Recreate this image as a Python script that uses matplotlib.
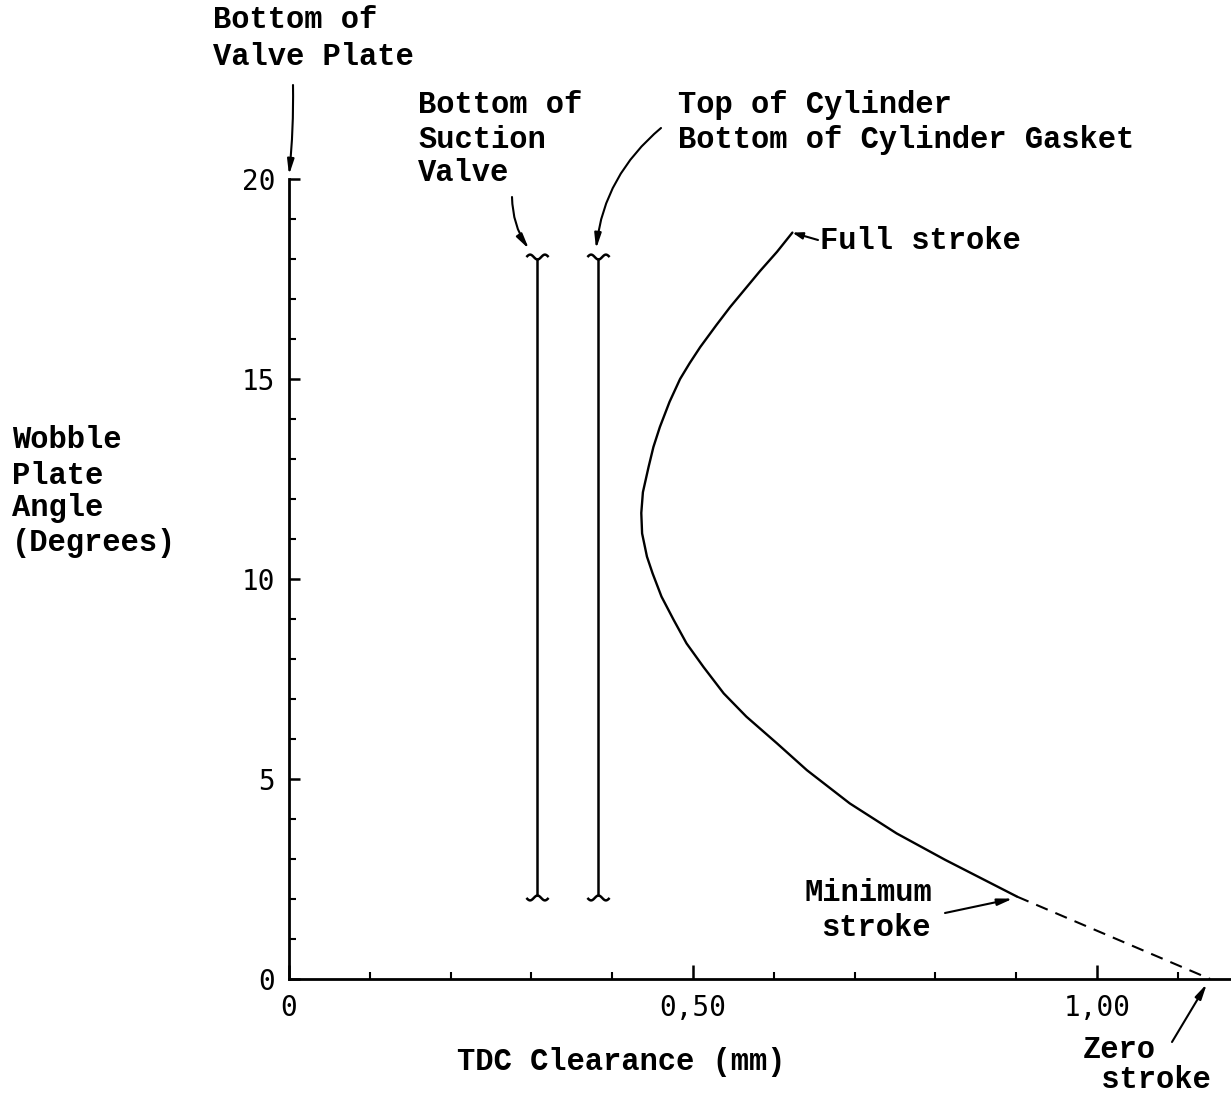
import numpy as np
import matplotlib
matplotlib.use("Agg")
import matplotlib.pyplot as plt
from matplotlib.path import Path
from matplotlib.ticker import MultipleLocator, FixedLocator, FixedFormatter

# ---- data -------------------------------------------------------------
# Wobble plate angle (deg) vs. TDC clearance (mm), solid part of the curve
angle_deg = [18.66, 18.18, 17.7, 16.8, 16.35, 15.8, 15.4, 15.0, 14.43,
             13.8, 13.3, 12.8, 12.17, 11.65, 11.14, 10.56, 10.14, 9.56,
             8.98, 8.39, 7.8, 7.14, 6.56, 5.89, 5.22, 4.39, 3.64, 2.98, 2.06]
clearance_mm = [0.623, 0.604, 0.583, 0.546, 0.529, 0.509, 0.496, 0.484,
                0.471, 0.459, 0.451, 0.445, 0.438, 0.436, 0.437, 0.443,
                0.450, 0.461, 0.476, 0.492, 0.513, 0.538, 0.566, 0.604,
                0.641, 0.694, 0.752, 0.812, 0.901]
# dashed extension from minimum stroke down to zero stroke
ext_angle = [2.06, 0.0]
ext_clearance = [0.901, 1.14]

# reference levels (vertical lines)
suction_valve_x = 0.307
cylinder_top_x = 0.382
ref_angle_span = [2.1, 18.0]

x_ticks = [0.0, 0.5, 1.0]
x_ticklabels = ["0", "0,50", "1,00"]
y_ticks = [0, 5, 10, 15, 20]
y_ticklabels = ["0", "5", "10", "15", "20"]

# ---- figure -----------------------------------------------------------
W, H = 1231, 1095
fig = plt.figure(figsize=(W / 100, H / 100), dpi=100)
ax = fig.add_axes([289 / W, 116 / H, 942 / W, 800 / H])
ax.set_xlim(0, 942 / 808)
ax.set_ylim(0, 20)

for s in ("top", "right"):
    ax.spines[s].set_visible(False)
for s in ("left", "bottom"):
    ax.spines[s].set_linewidth(2.0)
ax.spines["left"].set_bounds(0, 20)

ax.xaxis.set_major_locator(FixedLocator(x_ticks))
ax.xaxis.set_major_formatter(FixedFormatter(x_ticklabels))
ax.xaxis.set_minor_locator(MultipleLocator(0.1))
ax.yaxis.set_major_locator(FixedLocator(y_ticks))
ax.yaxis.set_major_formatter(FixedFormatter(y_ticklabels))
ax.yaxis.set_minor_locator(MultipleLocator(1))
ax.tick_params(axis="x", which="major", direction="in", length=10, width=1.8, pad=11)
ax.tick_params(axis="x", which="minor", direction="in", length=5, width=1.5)
ax.tick_params(axis="y", which="major", direction="in", length=8, width=1.8, pad=10)
ax.tick_params(axis="y", which="minor", direction="in", length=5, width=1.5)
for lab in ax.get_xticklabels() + ax.get_yticklabels():
    lab.set_fontfamily("DejaVu Sans Mono")
    lab.set_fontsize(20)

# ---- curves -----------------------------------------------------------
ax.plot(clearance_mm, angle_deg, color="black", lw=1.7, clip_on=False,
        solid_capstyle="round", solid_joinstyle="round")
ax.plot(ext_clearance, ext_angle, color="black", lw=1.5, ls=(0, (6, 4)),
        clip_on=False)

# vertical reference lines with break marks at both ends
t = np.linspace(-1, 1, 41)
wave_top = np.column_stack([t, 0.22 * (1 - np.cos(1.5 * np.pi * t))])
wave_bot = np.column_stack([t, -0.22 * (1 - np.cos(1.5 * np.pi * t))])
brk_top = Path(wave_top)
brk_bot = Path(wave_bot)
for xv in (suction_valve_x, cylinder_top_x):
    ax.plot([xv, xv], ref_angle_span, color="black", lw=1.8)
    ax.plot([xv], [ref_angle_span[1]], marker=brk_top, ms=16, mfc="none",
            mec="black", mew=1.8, ls="none")
    ax.plot([xv], [ref_angle_span[0]], marker=brk_bot, ms=16, mfc="none",
            mec="black", mew=1.8, ls="none")

# ---- text -------------------------------------------------------------
label_font = dict(family="Liberation Mono", weight="bold", size=22,
                  color="black")


def px(x, y):
    """image-style pixel position -> figure fraction"""
    return x / W, 1 - y / H


def put(x, y, s, ha="left"):
    fx, fy = px(x, y)
    fig.text(fx, fy, s, ha=ha, va="center", **label_font)


put(213, 20, "Bottom of")
put(213, 57, "Valve Plate")
put(418, 105, "Bottom of")
put(418, 140, "Suction")
put(418, 173, "Valve")
put(678, 105, "Top of Cylinder")
put(678, 140, "Bottom of Cylinder Gasket")
put(820, 241, "Full stroke")
put(868, 893, "Minimum", ha="center")
put(876, 928, "stroke", ha="center")
put(1083, 1050, "Zero")
put(1083, 1080, " stroke")
put(12, 440, "Wobble")
put(12, 476, "Plate")
put(12, 508, "Angle")
put(12, 543, "(Degrees)")
put(457, 1062, "TDC Clearance (mm)")

# ---- arrows -----------------------------------------------------------


def arrow(tip, tail_px, rad=0.0, head=0.9):
    ax.annotate("", xy=tip, xycoords="data",
                xytext=px(*tail_px), textcoords="figure fraction",
                annotation_clip=False,
                arrowprops=dict(arrowstyle=f"-|>,head_length={head},head_width=0.2",
                                lw=1.5, color="black", shrinkA=0, shrinkB=0,
                                connectionstyle=f"arc3,rad={rad}"))


arrow((0.0, 20.1), (293, 85), rad=-0.03)
arrow((suction_valve_x - 0.01, 18.25), (512, 197), rad=0.15)
arrow((cylinder_top_x - 0.002, 18.25), (661, 128), rad=0.2)
arrow((clearance_mm[0], angle_deg[0]), (818, 240), rad=0.0, head=0.6)
arrow((ext_clearance[0] - 0.005, ext_angle[0] - 0.05), (945, 913), rad=0.0)
arrow((ext_clearance[1] - 0.004, -0.12), (1172, 1042), rad=0.0)

fig.savefig("out.png", dpi=100, facecolor="white")
